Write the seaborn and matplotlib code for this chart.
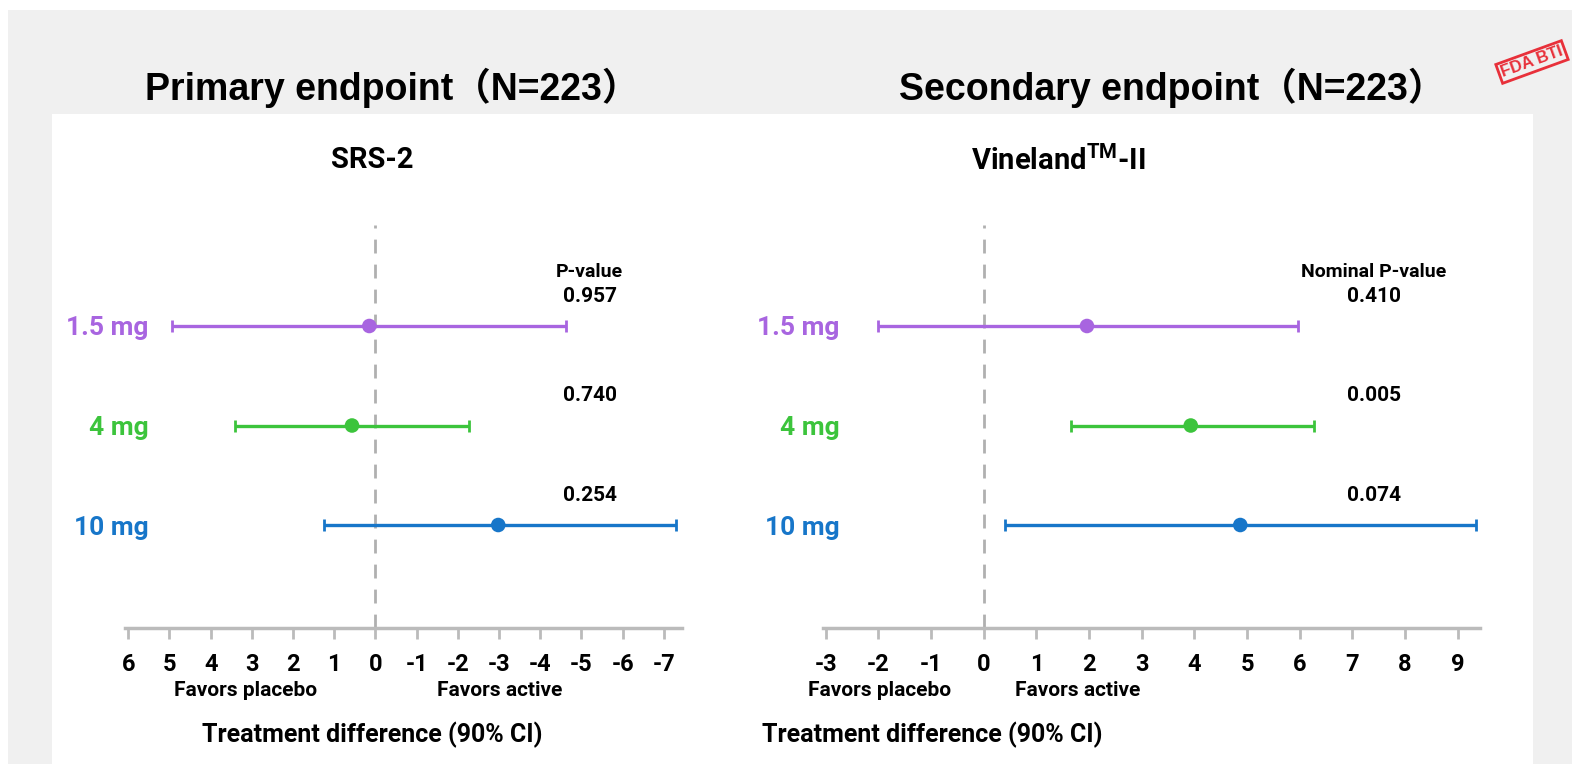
import numpy as np
import pandas as pd
import matplotlib
matplotlib.use('Agg')
import matplotlib.pyplot as plt
import seaborn as sns
from matplotlib.patches import Rectangle

sns.set_theme(style='white')
plt.rcParams['font.family'] = ['Roboto', 'Liberation Sans', 'DejaVu Sans']
plt.rcParams['font.weight'] = 'bold'
plt.rcParams['text.color'] = 'black'
plt.rcParams['xtick.color'] = 'black'
plt.rcParams['ytick.color'] = 'black'
plt.rcParams['mathtext.fontset'] = 'custom'
plt.rcParams['mathtext.bf'] = 'Roboto:bold'

# ---- data ----
doses = ['1.5 mg', '4 mg', '10 mg']
dose_colors = ['#a865e0', '#3cc43c', '#1776c9']

srs_est = [0.15, 0.57, -2.98]
srs_low = [4.93, 3.40, 1.33]
srs_high = [-4.65, -2.26, -7.22]
srs_p = ['0.957', '0.740', '0.254']
srs_ticks = [6, 5, 4, 3, 2, 1, 0, -1, -2, -3, -4, -5, -6, -7]

vab_est = [1.96, 3.93, 4.87]
vab_low = [-2.0, 1.66, 0.40]
vab_high = [5.96, 6.27, 9.35]
vab_p = ['0.410', '0.005', '0.074']
vab_ticks = [-3, -2, -1, 0, 1, 2, 3, 4, 5, 6, 7, 8, 9]

W, H = 1572, 764
fig = plt.figure(figsize=(W / 100, H / 100), dpi=100, facecolor='white')

# gray card and white inner panel
fig.patches.append(Rectangle((8 / W, 0), 1 - 8 / W, 1 - 10 / H, transform=fig.transFigure,
                             facecolor='#f0f0f0', edgecolor='none', zorder=-10))
fig.patches.append(Rectangle((52 / W, 0), (1533 - 52) / W, 1 - 114 / H, transform=fig.transFigure,
                             facecolor='white', edgecolor='none', zorder=-9))

title_font = ['Liberation Sans', 'Noto Sans CJK SC', 'DejaVu Sans']
fig.text(392 / W, 1 - 88 / H, 'Primary endpoint（N=223）', ha='center', va='center',
         fontsize=27, fontweight='bold', family=title_font)
fig.text(1172 / W, 1 - 88 / H, 'Secondary endpoint（N=223）', ha='center', va='center',
         fontsize=27, fontweight='bold', family=title_font)

# stamp in the corner
fig.text(1532 / W, 1 - 62 / H, 'FDA BTI', ha='center', va='center', rotation=20,
         fontsize=12, fontweight='bold', color='#e8303a', family=['Liberation Sans'],
         bbox=dict(boxstyle='square,pad=0.15', facecolor='none', edgecolor='#e8303a', lw=2))


def forest(rect, est, low, high, pvals, ticks, xlim, ptitle, ypad):
    ax = fig.add_axes(rect)
    df = pd.DataFrame({'dose': doses, 'est': est, 'low': low, 'high': high,
                       'y': np.arange(len(doses))})
    for i, row in df.iterrows():
        ax.errorbar(row['est'], row['y'],
                    xerr=[[abs(row['est'] - row['low'])], [abs(row['high'] - row['est'])]],
                    fmt='none', ecolor=dose_colors[i], elinewidth=2.4, capsize=4, capthick=2)
    sns.scatterplot(data=df, x='est', y='y', hue='dose', palette=dose_colors,
                    s=110, edgecolor='none', legend=False, ax=ax, zorder=5)
    ax.axvline(0, color='#b0b0b0', ls=(0, (5, 4)), lw=2, zorder=0)
    ax.set_xlim(*xlim)
    ax.set_ylim(3.035, -1.015)
    ax.set_xticks(ticks)
    ax.set_xticklabels([str(t) for t in ticks], fontsize=17, fontweight='bold')
    ax.set_yticks(df['y'])
    ax.set_yticklabels(doses, fontsize=19, fontweight='bold')
    for lab, c in zip(ax.get_yticklabels(), dose_colors):
        lab.set_color(c)
    ax.tick_params(axis='y', left=False, length=0, pad=ypad)
    ax.tick_params(axis='x', bottom=True, length=8, width=2, color='#bbbbbb',
                   direction='out', pad=10)
    for s in ['top', 'right', 'left']:
        ax.spines[s].set_visible(False)
    ax.spines['bottom'].set_color('#bbbbbb')
    ax.spines['bottom'].set_linewidth(2.5)
    ax.set_xlabel('')
    ax.set_ylabel('')
    ax.set_facecolor('none')
    # p-value column
    ax.text(ptitle[1], -0.54, ptitle[0], ha='center', va='center', fontsize=14, fontweight='bold')
    for yy, p in zip(df['y'], pvals):
        ax.text(ptitle[1], yy - 0.3, p, ha='center', va='center', fontsize=15, fontweight='bold')
    return ax


ax1 = forest([125 / W, 1 - 628 / H, (682 - 125) / W, 403 / H],
             srs_est, srs_low, srs_high, srs_p, srs_ticks, (6.08, -7.44), ('P-value', -5.2), -17)
ax2 = forest([823 / W, 1 - 628 / H, (1480 - 823) / W, 403 / H],
             vab_est, vab_low, vab_high, vab_p, vab_ticks, (-3.05, 9.42),
             ('Nominal P-value', 7.4), -12)

fig.text(372 / W, 1 - 160 / H, 'SRS-2', ha='center', va='center', fontsize=21, fontweight='bold')
fig.text(1058 / W, 1 - 160 / H, r'Vineland$^{\mathbf{TM}}$-II', ha='center', va='center',
         fontsize=21, fontweight='bold')

for x, t in [(246, 'Favors placebo'), (500, 'Favors active'),
             (880, 'Favors placebo'), (1078, 'Favors active')]:
    fig.text(x / W, 1 - 690 / H, t, ha='center', va='center', fontsize=15, fontweight='bold')
for x in [372, 932]:
    fig.text(x / W, 1 - 735 / H, 'Treatment difference (90% CI)', ha='center', va='center',
             fontsize=18, fontweight='bold')

plt.savefig('out.png', dpi=100, facecolor='white')
